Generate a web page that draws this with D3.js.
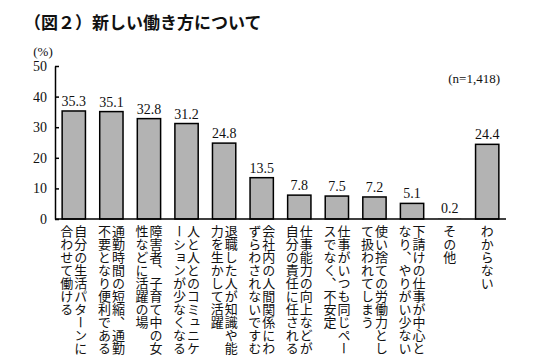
<!DOCTYPE html>
<html>
<head>
<meta charset="utf-8">
<script src="https://cdn.jsdelivr.net/npm/d3@7"></script>
<style>
  body { margin: 0; background: #fff; }
  svg { display: block; }
</style>
</head>
<body>
<div class="container"></div>
<script>
'use strict';

// Chart data
const categories = [
  ["自分の生活パターンに", "合わせて働ける"],
  ["通勤時間の短縮、通勤", "不要となり便利である"],
  ["障害者、子育て中の女", "性などに活躍の場"],
  ["人と人とのコミュニケ", "ーションが少なくなる"],
  ["退職した人が知識や能", "力を生かして活躍"],
  ["会社内の人間関係にわ", "ずらわされないですむ"],
  ["仕事能力の向上などが", "自分の責任に任される"],
  ["仕事がいつも同じペー", "スでなく、不安定"],
  ["使い捨ての労働力とし", "て扱われてしまう"],
  ["下請けの仕事が中心と", "なり、やりがい少ない"],
  ["その他"],
  ["わからない"]
];
const values = [35.3, 35.1, 32.8, 31.2, 24.8, 13.5, 7.8, 7.5, 7.2, 5.1, 0.2, 24.4];
const yTicks = [0, 10, 20, 30, 40, 50];

const width = 543;
const height = 364;
const numFont = "'Liberation Serif', 'DejaVu Serif', serif";
const jpFont = "'Noto Sans CJK JP', sans-serif";

const svg = d3.select("div.container").append("svg")
    .attr("width", width)
    .attr("height", height);

// Title
svg.append("text")
    .attr("x", 24)
    .attr("y", 29)
    .attr("font-family", jpFont)
    .attr("font-weight", "bold")
    .attr("font-size", 17)
    .attr("fill", "#111")
    .text("（図２）新しい働き方について");

// Scales
const x = d3.scaleBand()
    .domain(d3.range(values.length))
    .range([55, 506])
    .paddingInner(0.38)
    .paddingOuter(0.19);

const y = d3.scaleLinear()
    .domain([0, 50])
    .range([219, 66]);

// Y axis, ticks pointing inwards
const yAxis = d3.axisLeft(y)
    .tickValues(yTicks)
    .tickSize(-4)
    .tickPadding(8)
    .tickSizeOuter(0);

const gy = svg.append("g")
    .attr("transform", "translate(55,0)")
    .call(yAxis);
gy.select(".domain").attr("stroke", "#000").attr("stroke-width", 1.5);
gy.selectAll(".tick line").attr("stroke", "#000").attr("stroke-width", 1.5);
gy.selectAll(".tick text")
    .attr("font-family", numFont)
    .attr("font-size", 14)
    .attr("fill", "#111");

svg.append("text")
    .attr("x", 43)
    .attr("y", 56)
    .attr("text-anchor", "middle")
    .attr("font-family", numFont)
    .attr("font-size", 13)
    .attr("fill", "#111")
    .text("(%)");

// Bars
svg.selectAll("rect.bar")
    .data(values)
    .enter()
    .append("rect")
    .attr("class", "bar")
    .attr("x", (d, i) => x(i))
    .attr("y", d => y(d))
    .attr("width", x.bandwidth())
    .attr("height", d => y(0) - y(d))
    .attr("fill", "#b3b3b3")
    .attr("stroke", "#000")
    .attr("stroke-width", d => (y(0) - y(d) < 2 ? 0 : 1.5));

// X axis line
svg.append("line")
    .attr("x1", x.range()[0])
    .attr("x2", x.range()[1])
    .attr("y1", y(0))
    .attr("y2", y(0))
    .attr("stroke", "#000")
    .attr("stroke-width", 1.5);

// Value labels
svg.selectAll("text.value")
    .data(values)
    .enter()
    .append("text")
    .attr("class", "value")
    .attr("x", (d, i) => x(i) + x.bandwidth() / 2)
    .attr("y", d => y(d) - 5)
    .attr("text-anchor", "middle")
    .attr("font-family", numFont)
    .attr("font-size", 14)
    .attr("fill", "#111")
    .text(d => d.toFixed(1));

svg.append("text")
    .attr("x", 500)
    .attr("y", 83)
    .attr("text-anchor", "end")
    .attr("font-family", numFont)
    .attr("font-size", 13)
    .attr("fill", "#111")
    .text("(n=1,418)");

// Category labels, vertical columns centred under each bar
const colGap = 14;
categories.forEach((lines, i) => {
  const cx = x(i) + x.bandwidth() / 2;
  lines.forEach((line, j) => {
    const off = (lines.length - 1) / 2 * colGap - j * colGap;
    svg.append("text")
        .attr("x", cx + off)
        .attr("y", 225)
        .style("writing-mode", "vertical-rl")
        .attr("font-family", jpFont)
        .attr("font-size", 13)
        .attr("fill", "#111")
        .text(line);
  });
});
</script>
</body>
</html>
